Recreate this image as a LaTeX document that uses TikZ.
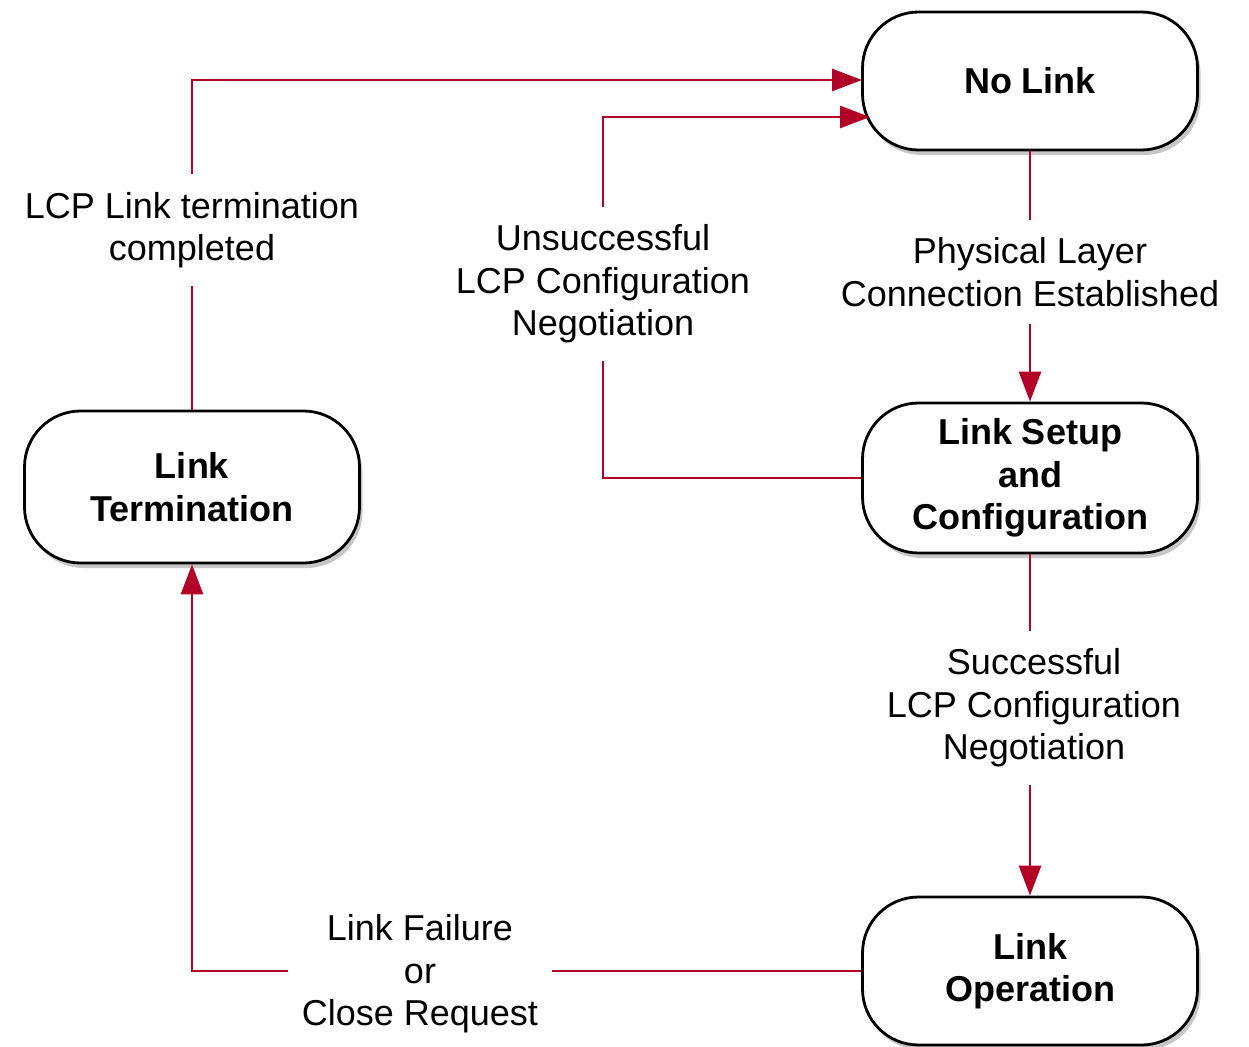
\documentclass[tikz,border=0pt]{standalone}
\usepackage{fontspec}
\setmainfont{Liberation Sans}
\usetikzlibrary{arrows.meta,shadows}
\definecolor{linkred}{RGB}{178,0,38}
\begin{document}
\begin{tikzpicture}[x=1pt,y=-1pt,
  state/.style={draw=black, line width=2.8pt, fill=white, rounded corners=56pt,
    minimum width=335pt, align=center, font=\fontsize{36}{42.5}\selectfont\bfseries,
    drop shadow={shadow xshift=3pt, shadow yshift=-5pt, fill=black, opacity=0.22}},
  conn/.style={draw=linkred, line width=2.8pt, -{Triangle[length=30pt,width=22pt]}},
  lbl/.style={fill=white, align=center, font=\fontsize{36}{42.5}\selectfont, inner xsep=14pt, inner ysep=18pt}]
\useasboundingbox (0,0) rectangle (1249,1046);

\node[state, minimum height=138pt] (nl) at (1030,81) {No Link};
\node[state, minimum height=150pt] (ls) at (1030,478) {Link Setup\\and\\Configuration};
\node[state, minimum height=152pt] (lt) at (192,487) {Link\\Termination};
\node[state, minimum height=148pt] (lo) at (1030,971) {Link\\Operation};

\coordinate (nlin) at (870,117);
\coordinate (nltop) at (862,80);

% LCP link termination completed
\draw[conn] (lt.north) |- (nltop);
\node[lbl] (l1) at (192,230) {LCP Link termination\\completed};

% unsuccessful
\draw[conn] (ls.west) -| (603,117) -- (nlin);
\node[lbl] (l2) at (603,284) {Unsuccessful\\LCP Configuration\\Negotiation};

% physical layer
\draw[conn] (nl.south) -- (ls.north);
\node[lbl] (l3) at (1030,272) {Physical Layer\\Connection Established};

% successful
\draw[conn] (ls.south) -- (lo.north);
\node[lbl] (l4) at (1034,708) {Successful\\LCP Configuration\\Negotiation};

% link failure
\draw[conn] (lo.west) -| (lt.south);
\node[lbl] (l5) at (420,974) {Link Failure\\or\\Close Request};
\end{tikzpicture}
\end{document}
